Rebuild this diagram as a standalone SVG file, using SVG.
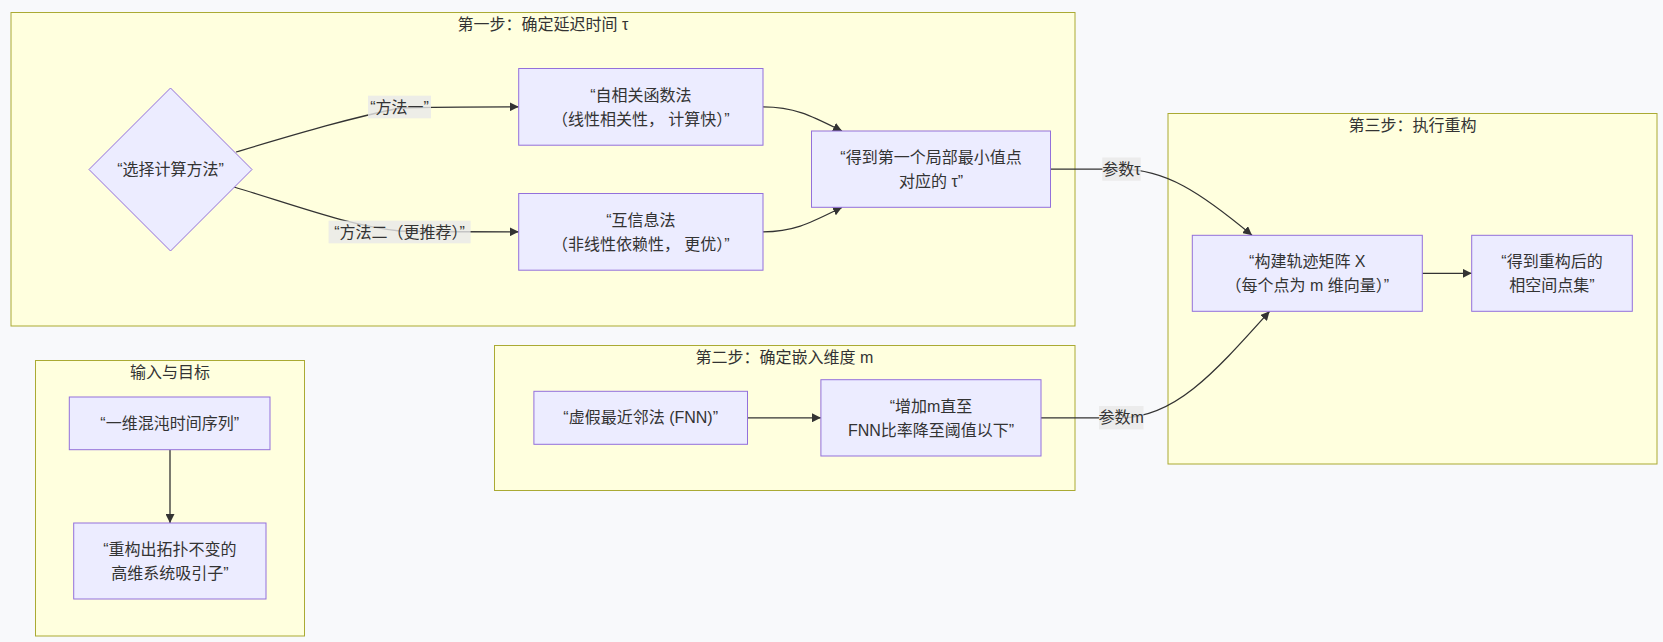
<svg xmlns="http://www.w3.org/2000/svg" width="1663" height="642" viewBox="0 0 1663 642">
<style>
  .cluster rect{fill:#ffffde;stroke:#aaaa33;stroke-width:1}
  .node rect,.node polygon{fill:#ececff;stroke:#9370db;stroke-width:1}
  text{font-family:"Liberation Sans","Noto Sans CJK SC",sans-serif;font-size:16px;fill:#333;text-anchor:middle;dominant-baseline:central}
  .edge{fill:none;stroke:#333;stroke-width:1.3}
  .lbl rect{fill:#e8e8e8;fill-opacity:0.8}
</style>
<defs>
  <marker id="arrow" viewBox="0 0 10 10" refX="10" refY="5" markerWidth="9" markerHeight="9" markerUnits="userSpaceOnUse" orient="auto">
    <path d="M0,0 L10,5 L0,10 z" fill="#333"/>
  </marker>
</defs>
<rect x="0" y="0" width="1663" height="642" fill="#f8f9fb"/>

<g id="cluster-step1" class="cluster">
  <rect x="11" y="12.5" width="1064" height="313.5"/>
  <text x="543" y="24">第一步：确定延迟时间 τ</text>
</g>
<g id="cluster-step2" class="cluster">
  <rect x="494.5" y="345.5" width="580.5" height="145"/>
  <text x="784.5" y="357">第二步：确定嵌入维度 m</text>
</g>
<g id="cluster-step3" class="cluster">
  <rect x="1168" y="113.5" width="489" height="350.5"/>
  <text x="1412.5" y="125">第三步：执行重构</text>
</g>
<g id="cluster-io" class="cluster">
  <rect x="35.5" y="360.5" width="269" height="275.5"/>
  <text x="170" y="372.5">输入与目标</text>
</g>

<g id="connectors">
  <path class="edge" d="M236,152 C300,133 350,118 400,108 C440,106.8 480,106.8 518.7,106.8" marker-end="url(#arrow)"/>
  <path class="edge" d="M234,187 C300,207 350,226 400,231 C440,231.8 480,231.8 518.7,231.8" marker-end="url(#arrow)"/>
  <path class="edge" d="M763,106.8 C795,106.8 812,116 842,131" marker-end="url(#arrow)"/>
  <path class="edge" d="M763,231.8 C795,231.8 812,222 842,207.3" marker-end="url(#arrow)"/>
  <path class="edge" d="M1050.7,169.2 L1121,169.2 C1165,169.2 1200,192 1252,235.3" marker-end="url(#arrow)"/>
  <path class="edge" d="M1041,417.8 L1121,417.8 C1175,417.8 1215,372 1269.6,311.3" marker-end="url(#arrow)"/>
  <path class="edge" d="M1422.3,273.3 L1471.7,273.3" marker-end="url(#arrow)"/>
  <path class="edge" d="M747.5,417.8 L820.9,417.8" marker-end="url(#arrow)"/>
  <path class="edge" d="M170,449.7 L170,523" marker-end="url(#arrow)"/>
  <g class="lbl">
    <rect x="368" y="95.7" width="63" height="22.6"/>
    <text x="399.5" y="107">“方法一”</text>
    <rect x="328.6" y="220.7" width="142" height="22.6"/>
    <text x="399.6" y="232">“方法二（更推荐）”</text>
    <rect x="1102.3" y="157.5" width="38.4" height="23.2"/>
    <text x="1121.5" y="169">参数τ</text>
    <rect x="1099" y="406" width="44.5" height="23.3"/>
    <text x="1121.2" y="417.7">参数m</text>
  </g>
</g>

<g id="node-choose" class="node">
  <polygon points="170.5,88 252,169.5 170.5,251 89,169.5"/>
  <text x="170.5" y="169.5">“选择计算方法”</text>
</g>
<g id="node-acf" class="node">
  <rect x="518.7" y="68.5" width="244.3" height="76.7"/>
  <text x="640.8" y="95">“自相关函数法</text>
  <text x="640.8" y="119">（线性相关性， 计算快）”</text>
</g>
<g id="node-mi" class="node">
  <rect x="518.7" y="193.5" width="244.3" height="76.7"/>
  <text x="640.8" y="220">“互信息法</text>
  <text x="640.8" y="244">（非线性依赖性， 更优）”</text>
</g>
<g id="node-tau" class="node">
  <rect x="811.5" y="131" width="239" height="76.3"/>
  <text x="931" y="157.5">“得到第一个局部最小值点</text>
  <text x="931" y="181">对应的 τ”</text>
</g>
<g id="node-fnn" class="node">
  <rect x="533.9" y="391.3" width="213.6" height="53"/>
  <text x="640.7" y="417.8">“虚假最近邻法 (FNN)”</text>
</g>
<g id="node-incm" class="node">
  <rect x="820.9" y="379.7" width="220.1" height="76.3"/>
  <text x="931" y="406">“增加m直至</text>
  <text x="931" y="430">FNN比率降至阈值以下”</text>
</g>
<g id="node-matrix" class="node">
  <rect x="1192.3" y="235.3" width="230" height="76"/>
  <text x="1307.3" y="261.5">“构建轨迹矩阵 X</text>
  <text x="1307.3" y="285.5">（每个点为 m 维向量）”</text>
</g>
<g id="node-phase" class="node">
  <rect x="1471.7" y="235.3" width="160.6" height="76"/>
  <text x="1552" y="261.5">“得到重构后的</text>
  <text x="1552" y="285.5">相空间点集”</text>
</g>
<g id="node-series" class="node">
  <rect x="69.3" y="397" width="200.7" height="52.7"/>
  <text x="169.7" y="423.3">“一维混沌时间序列”</text>
</g>
<g id="node-attractor" class="node">
  <rect x="73.7" y="523" width="192.3" height="76"/>
  <text x="169.8" y="549">“重构出拓扑不变的</text>
  <text x="169.8" y="573">高维系统吸引子”</text>
</g>
</svg>
